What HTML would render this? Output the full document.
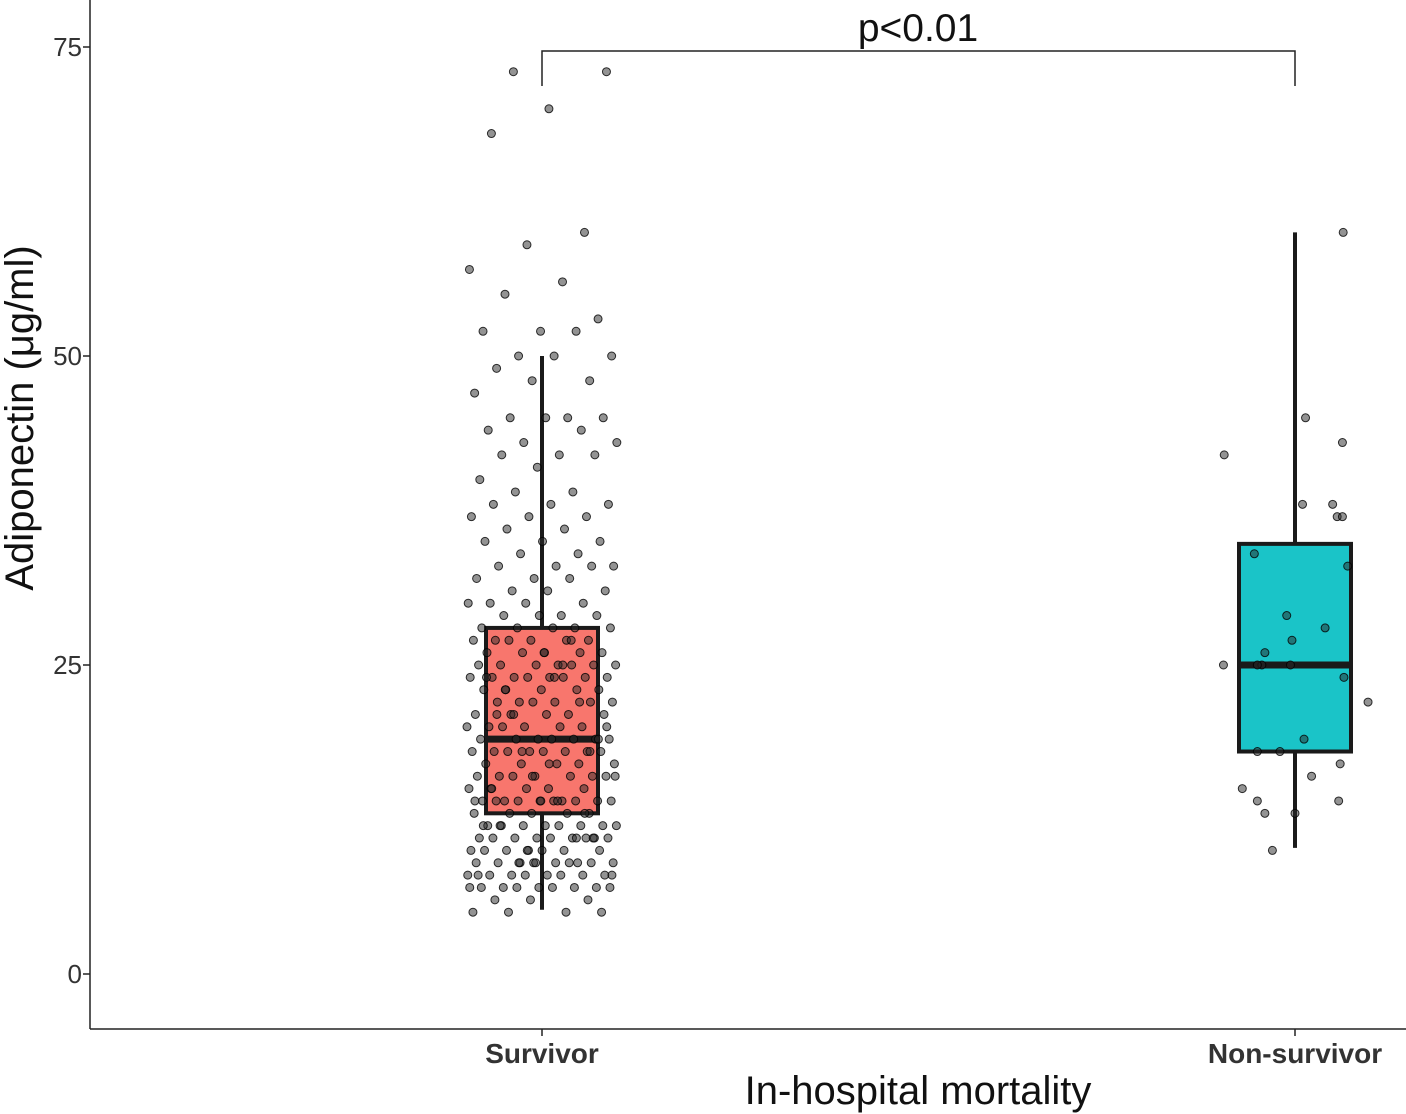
<!DOCTYPE html>
<html><head><meta charset="utf-8">
<style>
html,body{margin:0;padding:0;background:#fff;}
svg{display:block;font-family:"Liberation Sans",sans-serif;}
</style></head>
<body>
<svg id="chart" width="1406" height="1114" viewBox="0 0 1406 1114" xmlns="http://www.w3.org/2000/svg">
<g id="axes"></g>
<g id="boxes"></g>
<g id="points"></g>
<text transform="translate(33,418) rotate(-90)" text-anchor="middle" font-size="40" fill="#111">Adiponectin (μg/ml)</text>
<text x="918" y="1104" text-anchor="middle" font-size="40" fill="#111">In-hospital mortality</text>
<text x="918" y="41" text-anchor="middle" font-size="39" fill="#111">p&lt;0.01</text>
<path d="M542,86 V51 H1295 V86" fill="none" stroke="#222" stroke-width="1.5"/>
</svg>
<script>
const categories = ["Survivor", "Non-survivor"];
const yTicks = [0, 25, 50, 75];
const boxQ1 = [13, 18];
const boxMedian = [19, 25];
const boxQ3 = [28, 34.8];
const whiskerLow = [5.2, 10.2];
const whiskerHigh = [50, 60];
const boxFill = ["#f8766d", "#1ac4c8"];
const survivorValues = [73,73,70,68,60,59,57,56,55,53,52,52,52,50,50,50,49,48,48,47,45,45,45,45,44,44,43,43,42,42,42,41,40,39,39,38,38,38,37,37,37,36,36,35,35,35,34,34,33,33,33,33,32,32,32,31,31,31,30,30,30,30,29,29,29,29,
28,28,28,28,28,27,27,27,27,27,27,26,26,26,26,26,25,25,25,25,25,25,25,24,24,24,24,24,24,24,24,23,23,23,23,23,22,22,22,22,22,22,21,21,21,21,21,20,20,20,20,20,20,19,19,19,19,19,19,19,18,18,18,18,18,18,18,18,17,17,17,17,17,16,16,16,16,16,16,16,15,15,15,15,15,14,14,14,14,14,14,14,14,14,14,
13,13,13,13,13,12,12,12,12,12,12,12,12,11,11,11,11,11,11,11,11,11,10,10,10,10,10,10,10,9,9,9,9,9,9,9,9,9,8,8,8,8,8,8,8,8,7,7,7,7,7,7,7,7,6,6,6,5,5,5,5,
26,24,22,18,16,14,12,11,9,8,27,21,20,17,15,13,10,7,25,23,19,14,12,11,9,8,24,21,18,16,14];
const nonSurvivorValues = [60,45,43,42,38,38,37,37,34,33,29,28,27,26,25,25,25,25,24,22,19,18,18,17,16,15,14,14,13,13,10];
const nonSurvivorJitter = [0.064,0.014,0.063,-0.094,0.01,0.05,0.056,0.063,-0.054,0.07,-0.011,0.04,-0.004,-0.04,-0.044,-0.05,-0.006,-0.095,0.065,0.097,0.012,-0.05,-0.02,0.06,0.022,-0.07,-0.05,0.058,-0.04,0.0,-0.03];

const NS = "http://www.w3.org/2000/svg";
const X0 = 90, XR = 1406, YB = 1029;
const catX = [542, 1295];
const spacing = catX[1] - catX[0];
function yScale(v){ return 974 - v * (927/75); }
function el(tag, attrs, parent){ const e = document.createElementNS(NS, tag); for (const k in attrs) e.setAttribute(k, attrs[k]); parent.appendChild(e); return e; }

const axes = document.getElementById("axes");
const la = el("line", {x1:X0, y1:0, x2:X0, y2:YB, stroke:"#222", "stroke-width":1.5}, axes);


const ba = el("line", {x1:X0, y1:YB, x2:XR, y2:YB, stroke:"#222", "stroke-width":1.5}, axes);


yTicks.forEach(t => {
  const y = yScale(t);
  const tk = el("line", {x1:X0-7, y1:y, x2:X0, y2:y, stroke:"#222", "stroke-width":1.5}, axes);
  
  
  const tx = el("text", {x:X0-8, y:y+9, "text-anchor":"end", "font-size":26, fill:"#333"}, axes);
  tx.textContent = t;
  
  
});
categories.forEach((c, i) => {
  const tk = el("line", {x1:catX[i], y1:YB, x2:catX[i], y2:YB+7, stroke:"#222", "stroke-width":1.5}, axes);
  
  
  const tx = el("text", {x:catX[i], y:1063, "text-anchor":"middle", "font-size":28, "font-weight":"bold", fill:"#333"}, axes);
  tx.textContent = c;
  
  
});

const boxes = document.getElementById("boxes");
const halfW = 56;
categories.forEach((c, i) => {
  const cx = catX[i];
  const w = el("line", {x1:cx, y1:yScale(whiskerLow[i]), x2:cx, y2:yScale(whiskerHigh[i]), stroke:"#1a1a1a", "stroke-width":4}, boxes);
  
  
  const r = el("rect", {x:cx-halfW, y:yScale(boxQ3[i]), width:halfW*2, height:yScale(boxQ1[i])-yScale(boxQ3[i]), fill:boxFill[i], stroke:"#1a1a1a", "stroke-width":4}, boxes);
  
  
  const m = el("line", {x1:cx-halfW, y1:yScale(boxMedian[i]), x2:cx+halfW, y2:yScale(boxMedian[i]), stroke:"#1a1a1a", "stroke-width":7}, boxes);
  
  
});

const pts = document.getElementById("points");
function jit(i){ const f = (i * 0.6180339887 + 0.31) % 1; return (f - 0.5) * 0.2; }
survivorValues.forEach((v, i) => {
  const p = el("circle", {cx:catX[0] + jit(i)*spacing, cy:yScale(v), r:4, fill:"rgba(40,40,40,0.5)", stroke:"rgba(0,0,0,0.8)", "stroke-width":1}, pts);
  
  
});
nonSurvivorValues.forEach((v, i) => {
  const p = el("circle", {cx:catX[1] + nonSurvivorJitter[i]*spacing, cy:yScale(v), r:4, fill:"rgba(40,40,40,0.5)", stroke:"rgba(0,0,0,0.8)", "stroke-width":1}, pts);
  
  
});
</script>
</body></html>
